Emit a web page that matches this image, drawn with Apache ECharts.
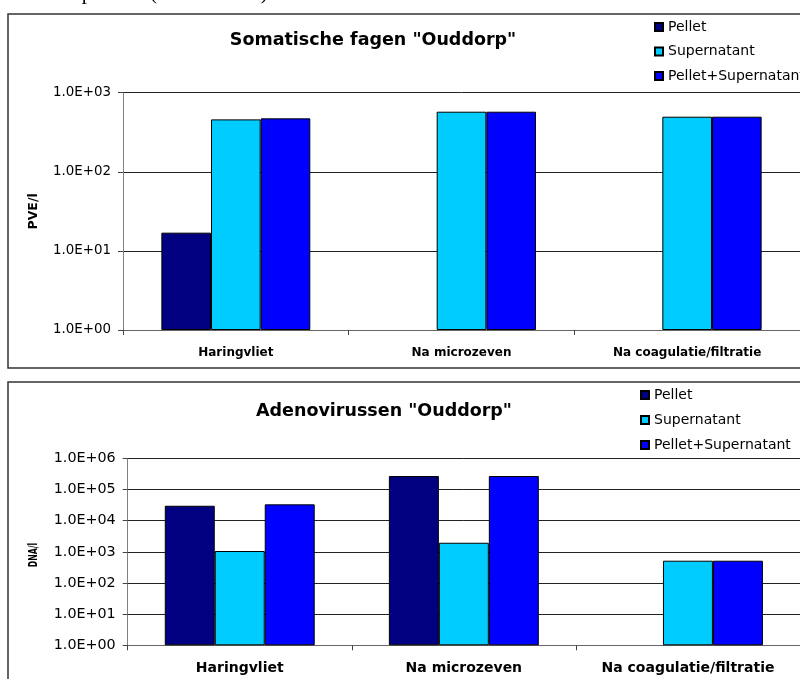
<!DOCTYPE html>
<html>
<head>
<meta charset="utf-8">
<script src="https://cdn.jsdelivr.net/npm/echarts@6/dist/echarts.min.js"></script>
<style>
html,body{margin:0;padding:0;background:#fff;}
#chart{width:800px;height:679px;}
</style>
</head>
<body>
<div id="chart"></div>
<script>
const categories = ['Haringvliet', 'Na microzeven', 'Na coagulatie/filtratie'];
const seriesNames = ['Pellet', 'Supernatant', 'Pellet+Supernatant'];
const seriesColors = ['#000080', '#00CCFF', '#0000FF'];

// Somatische fagen (PVE/l)
const fagenPellet = [17, null, null];
const fagenSupernatant = [460, 575, 497];
const fagenTotal = [474, 575, 497];
const fagenTicks = ['1.0E+00', '1.0E+01', '1.0E+02', '1.0E+03'];

// Adenovirussen (DNA/l)
const adenoPellet = [30000, 270000, null];
const adenoSupernatant = [1060, 1950, 518];
const adenoTotal = [33300, 270000, 518];
const adenoTicks = ['1.0E+00', '1.0E+01', '1.0E+02', '1.0E+03', '1.0E+04', '1.0E+05', '1.0E+06'];

const FONT = 'DejaVu Sans';

function logFmt(ticks) {
  return function (v) {
    const e = Math.round(Math.log10(v));
    return ticks[e] !== undefined ? ticks[e] : '';
  };
}

function mkBar(name, data, idx, color, bw) {
  return {
    type: 'bar', name: name, data: data,
    xAxisIndex: idx, yAxisIndex: idx,
    barWidth: bw, barGap: '0%',
    itemStyle: { color: color, borderColor: '#000', borderWidth: 1 },
    emphasis: { disabled: true }
  };
}

const chart = echarts.init(document.getElementById('chart'));
chart.setOption({
  animation: false,
  backgroundColor: '#fff',
  textStyle: { fontFamily: FONT },
  title: [
    { text: 'Somatische fagen "Ouddorp"', left: 373, top: 31, textAlign: 'center', padding: 0,
      textStyle: { fontFamily: FONT, fontSize: 17.5, fontWeight: 'bold', color: '#000' } },
    { text: 'Adenovirussen "Ouddorp"', left: 384, top: 402, textAlign: 'center', padding: 0,
      textStyle: { fontFamily: FONT, fontSize: 17.5, fontWeight: 'bold', color: '#000' } }
  ],
  legend: [
    { orient: 'vertical', left: 654, top: 19, padding: 0, itemWidth: 8, itemHeight: 8, itemGap: 8.5,
      icon: 'rect', data: seriesNames, selectedMode: false,
      textStyle: { fontFamily: FONT, fontSize: 14, color: '#000', lineHeight: 16 } },
    { orient: 'vertical', left: 640, top: 387, padding: 0, itemWidth: 8, itemHeight: 8, itemGap: 9,
      icon: 'rect', data: seriesNames, selectedMode: false,
      textStyle: { fontFamily: FONT, fontSize: 14, color: '#000', lineHeight: 16 } }
  ],
  grid: [
    { left: 123, top: 92.7, width: 692, height: 237.3 },
    { left: 127.7, top: 458.3, width: 684, height: 187 }
  ],
  xAxis: [
    { type: 'category', gridIndex: 0, data: categories,
      axisLine: { lineStyle: { color: '#666', width: 1 } },
      axisTick: { show: true, length: 5, alignWithLabel: false, lineStyle: { color: '#444' } },
      axisLabel: { interval: 0, margin: 17, fontFamily: FONT, fontSize: 12, fontWeight: 'bold', color: '#000' } },
    { type: 'category', gridIndex: 1, data: categories,
      axisLine: { lineStyle: { color: '#666', width: 1 } },
      axisTick: { show: true, length: 5, alignWithLabel: false, lineStyle: { color: '#444' } },
      axisLabel: { interval: 0, hideOverlap: false, margin: 16, fontFamily: FONT, fontSize: 14, fontWeight: 'bold', color: '#000' } }
  ],
  yAxis: [
    { type: 'log', logBase: 10, gridIndex: 0, min: 1, max: 1000, splitNumber: 3,
      name: 'PVE/l', nameLocation: 'middle', nameRotate: 90, nameGap: 83,
      nameTextStyle: { fontFamily: FONT, fontSize: 12.5, fontWeight: 'bold', color: '#000' },
      axisLine: { show: true, lineStyle: { color: '#808080' } },
      axisTick: { show: true, length: 5, lineStyle: { color: '#444' } },
      splitLine: { show: true, lineStyle: { color: '#222', width: 1 } },
      axisLabel: { margin: 12, fontFamily: FONT, fontSize: 13.4, color: '#000', formatter: logFmt(fagenTicks) } },
    { type: 'log', logBase: 10, gridIndex: 1, min: 1, max: 1000000, splitNumber: 6,
      axisLine: { show: true, lineStyle: { color: '#808080' } },
      axisTick: { show: true, length: 5, lineStyle: { color: '#444' } },
      splitLine: { show: true, lineStyle: { color: '#222', width: 1 } },
      axisLabel: { margin: 12, fontFamily: FONT, fontSize: 14.3, color: '#000', formatter: logFmt(adenoTicks) } }
  ],
  graphic: [
    { type: 'rect', z: -10, shape: { x: 8, y: 14, width: 810, height: 354 },
      style: { fill: 'none', stroke: '#333', lineWidth: 1.5 } },
    { type: 'rect', z: -10, shape: { x: 8, y: 382, width: 810, height: 330 },
      style: { fill: 'none', stroke: '#333', lineWidth: 1.5 } },
    { type: 'text', x: 273, y: 4,
      style: { text: 'laatste periode (Na de zeven).', textAlign: 'right', textVerticalAlign: 'bottom',
               font: '21px "Liberation Serif"', fill: '#000' } },
    { type: 'text', x: 34, y: 555, rotation: Math.PI / 2, scaleX: 0.6,
      style: { text: 'DNA/l', textAlign: 'center', textVerticalAlign: 'middle',
               font: 'bold 13px "DejaVu Sans"', fill: '#000' } }
  ],
  series: [
    mkBar(seriesNames[0], fagenPellet, 0, seriesColors[0], '22%'),
    mkBar(seriesNames[1], fagenSupernatant, 0, seriesColors[1], '22%'),
    mkBar(seriesNames[2], fagenTotal, 0, seriesColors[2], '22%'),
    mkBar(seriesNames[0], adenoPellet, 1, seriesColors[0], '22.3%'),
    mkBar(seriesNames[1], adenoSupernatant, 1, seriesColors[1], '22.3%'),
    mkBar(seriesNames[2], adenoTotal, 1, seriesColors[2], '22.3%')
  ]
});
</script>
</body>
</html>
